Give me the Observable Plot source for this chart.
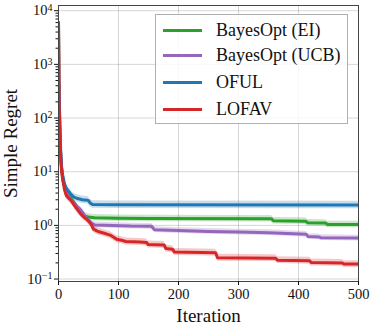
<!DOCTYPE html>
<html><head><meta charset="utf-8">
<script src="https://cdn.jsdelivr.net/npm/d3@7"></script>
<script src="https://cdn.jsdelivr.net/npm/@observablehq/plot@0.6"></script>
<style>
body{margin:0;background:#fff;}
#wrap{position:relative;width:374px;height:326px;font-family:"Liberation Serif",serif;}
#wrap svg{position:absolute;left:0;top:0;font-family:"Liberation Serif",serif;}
#legend{position:absolute;left:155px;top:14px;width:193px;height:110px;border:1px solid #b0b0b0;background:rgba(255,255,255,0.82);box-sizing:border-box;}
.lrow{position:absolute;left:0;height:0;}
.lline{position:absolute;left:7px;width:39px;height:3px;top:-1.5px;}
.ltext{position:absolute;left:60px;top:-11.5px;font-family:"Liberation Serif",serif;font-size:18px;line-height:22px;white-space:nowrap;color:#111;}
</style></head><body><div id="wrap"></div>
<script>
const seriesNames = ["BayesOpt (EI)", "BayesOpt (UCB)", "OFUL", "LOFAV"];
const seriesColors = ["#2ca02c", "#9467bd", "#1f77b4", "#d62728"];
const bandFactors = [1.15, 1.13, 1.17, 1.16];

const itersEI  = [0,1,2,3,4,5,8,13,20,28,32,36,40,44,50,60,100,150,355,358,412,415,445,448,500];
const regretEI = [6000,300,70,30,18,12,6.5,4.2,3.3,2.5,2.1,1.84,1.62,1.49,1.43,1.39,1.36,1.34,1.33,1.22,1.2,1.12,1.11,1.04,1.04];

const itersUCB  = [0,1,2,3,4,5,8,13,20,28,36,41,46,50,55,60,90,120,155,160,200,250,300,350,413,416,434,437,500];
const regretUCB = [6000,300,70,30,18,12,6.5,4.0,3.1,2.4,2.0,1.7,1.4,1.25,1.1,1.02,1.0,0.97,0.96,0.83,0.8,0.77,0.75,0.73,0.68,0.62,0.61,0.59,0.58];

const itersOFUL  = [0,1,2,3,4,5,6,8,10,12,15,20,25,30,35,40,48,50,53,57,100,500];
const regretOFUL = [550,300,110,40,20,13,10,7.5,6,5.2,4.6,3.9,3.4,3.2,3.1,3.0,2.95,2.9,2.6,2.45,2.42,2.4];

const itersLOFAV  = [0,1,2,3,4,5,6,8,10,13,17,20,24,27,31,35,39,43,47,50,53,55,58,63,67,75,86,92,97,105,112,136,147,149,176,179,190,193,262,265,362,365,418,421,473,476,500];
const regretLOFAV = [6000,250,60,27,16,11,8.5,6.2,4.6,3.6,3.2,3.0,2.6,2.3,2.0,1.75,1.55,1.4,1.3,1.2,1.1,1.02,0.86,0.8,0.76,0.72,0.66,0.6,0.55,0.53,0.5,0.49,0.48,0.44,0.43,0.37,0.36,0.32,0.31,0.25,0.245,0.225,0.22,0.204,0.2,0.19,0.19];

const xTicks = [0, 100, 200, 300, 400, 500];
const yTicks = [0.1, 1, 10, 100, 1000, 10000];
const yTickExponents = ["−1", "0", "1", "2", "3", "4"];

const iterSets = [itersEI, itersUCB, itersOFUL, itersLOFAV];
const regretSets = [regretEI, regretUCB, regretOFUL, regretLOFAV];

const rows = [];
seriesNames.forEach((name, s) => {
  iterSets[s].forEach((it, i) => {
    const v = regretSets[s][i];
    rows.push({series: name, iter: it, value: v, lo: v / bandFactors[s], hi: v * bandFactors[s]});
  });
});

const yMinor = [];
for (let e = -2; e <= 4; e++) for (let m = 2; m <= 9; m++) { const v = m * Math.pow(10, e); if (v > 0.09 && v < 12500) yMinor.push(v); }

const plot = Plot.plot({
  width: 374, height: 326,
  marginLeft: 58, marginRight: 16, marginTop: 5, marginBottom: 45,
  style: {fontFamily: "Liberation Serif, serif", fontSize: "14.5px", color: "#111", background: "transparent"},
  x: {domain: [0, 500]},
  y: {type: "log", domain: [0.09, 12500]},
  color: {domain: seriesNames, range: seriesColors},
  marks: [
    Plot.gridX(xTicks, {stroke: "#000", strokeOpacity: 0.16}),
    Plot.gridY(yTicks, {stroke: "#000", strokeOpacity: 0.16}),
    Plot.areaY(rows, {x: "iter", y1: "lo", y2: "hi", z: "series", fill: "series", fillOpacity: 0.25, clip: true}),
    Plot.line(rows, {x: "iter", y: "value", z: "series", stroke: "series", strokeWidth: 3, clip: true}),
    Plot.frame({stroke: "#444"}),
    Plot.axisX({ticks: xTicks, tickSize: 4, tickPadding: 3, label: "Iteration", labelAnchor: "center", labelArrow: "none", labelOffset: 40, tickFormat: d => String(d)}),
    Plot.axisY({ticks: yTicks, tickSize: 4, tickPadding: 2, label: "Simple Regret", labelAnchor: "center", labelArrow: "none", labelOffset: 55, tickFormat: (d, i) => "10^" + yTickExponents[yTicks.indexOf(d)]}),
    Plot.axisY({ticks: yMinor, tickSize: 2.5, tickFormat: () => "", label: null})
  ]
});

// superscript exponents on the log axis labels
plot.querySelectorAll('g[aria-label="y-axis tick label"] text').forEach(t => {
  const s = t.textContent;
  const k = s.indexOf("^");
  if (k < 0) return;
  t.textContent = s.slice(0, k);
  const ts = document.createElementNS("http://www.w3.org/2000/svg", "tspan");
  ts.setAttribute("dy", "-0.45em");
  ts.setAttribute("font-size", "10px");
  ts.textContent = s.slice(k + 1);
  t.appendChild(ts);
});
plot.querySelectorAll('g[aria-label="x-axis label"] text, g[aria-label="y-axis label"] text').forEach(t => {
  t.setAttribute("font-size", "19px");
});

const wrap = document.getElementById("wrap");
wrap.appendChild(plot);

const legend = document.createElement("div");
legend.id = "legend";
const rowTops = [15, 40.5, 67.5, 94];
seriesNames.forEach((name, i) => {
  const r = document.createElement("div");
  r.className = "lrow";
  r.style.top = rowTops[i] + "px";
  const l = document.createElement("div");
  l.className = "lline";
  l.style.background = seriesColors[i];
  const tx = document.createElement("div");
  tx.className = "ltext";
  tx.textContent = name;
  r.appendChild(l); r.appendChild(tx);
  legend.appendChild(r);
});
wrap.appendChild(legend);
</script>
</body></html>
